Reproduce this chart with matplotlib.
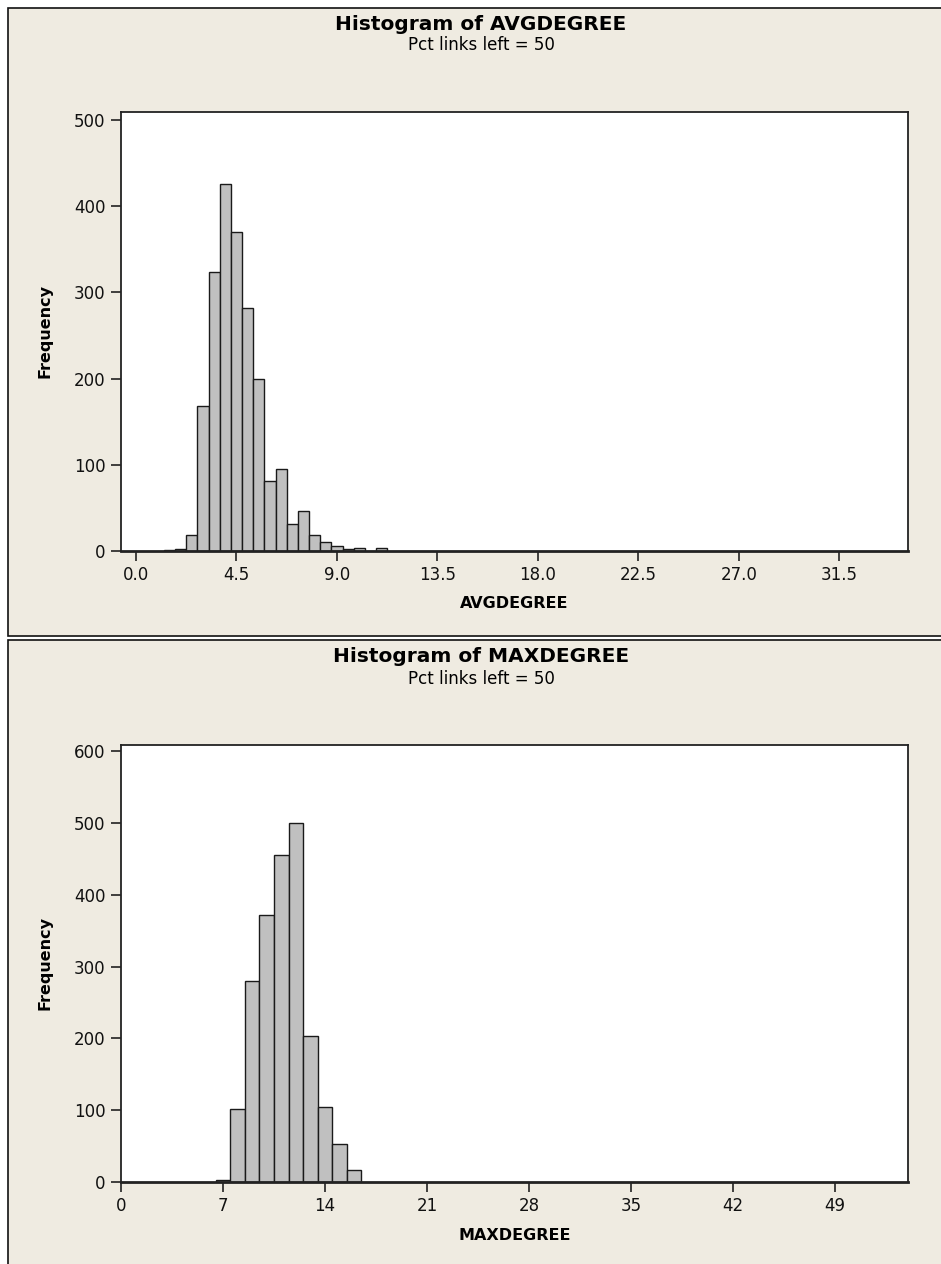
import numpy as np
import matplotlib.pyplot as plt
from matplotlib.patches import Rectangle

# AVGDEGREE histogram, bins of width 0.5 (bin centres)
avg_centers = [1.5, 2.0, 2.5, 3.0, 3.5, 4.0, 4.5, 5.0, 5.5, 6.0, 6.5,
               7.0, 7.5, 8.0, 8.5, 9.0, 9.5, 10.0, 10.5, 11.0]
avg_counts = [1, 2, 18, 168, 324, 425, 370, 282, 200, 81, 95,
              31, 46, 19, 10, 6, 2, 4, 0, 4]
avg_ticks = [0.0, 4.5, 9.0, 13.5, 18.0, 22.5, 27.0, 31.5]

# MAXDEGREE histogram, bins of width 1
max_centers = [7, 8, 9, 10, 11, 12, 13, 14, 15, 16]
max_counts = [3, 102, 280, 372, 456, 500, 203, 104, 53, 17]
max_ticks = [0, 7, 14, 21, 28, 35, 42, 49]

W, H = 941, 1264
BG = '#EFEBE1'
BAR = '#C0C0C0'
EDGE = '#1a1a1a'

plt.rcParams['font.family'] = 'DejaVu Sans'

fig = plt.figure(figsize=(W / 100, H / 100), dpi=100)
fig.patch.set_facecolor('white')


def px_rect(x0, y0, x1, y1):
    # pixel box (top-left origin) -> figure fraction [l, b, w, h]
    return [x0 / W, 1 - y1 / H, (x1 - x0) / W, (y1 - y0) / H]


# two panel frames, separated by a thin gap
for y0, y1 in [(8, 636), (640, 1280)]:
    l, b, w, h = px_rect(8, y0, 960, y1)
    fig.patches.append(Rectangle((l, b), w, h, transform=fig.transFigure,
                                 facecolor=BG, edgecolor='#111111', lw=1.2,
                                 zorder=-5))


def draw_hist(box, centers, counts, width, xlim, ylim, xticks, yticks,
              xfmt, title, xlabel, title_y, sub_y):
    ax = fig.add_axes(px_rect(*box))
    ax.set_zorder(1)
    ax.set_facecolor('white')
    ax.bar(centers, counts, width=width, color=BAR, edgecolor=EDGE,
           linewidth=1.0, zorder=2)
    ax.set_xlim(*xlim)
    ax.set_ylim(*ylim)
    ax.set_xticks(xticks)
    ax.set_xticklabels([xfmt.format(t) for t in xticks])
    ax.set_yticks(yticks)
    ax.tick_params(direction='out', length=7, width=1.1, labelsize=12,
                   colors='#111111', pad=4)
    for s in ax.spines.values():
        s.set_linewidth(1.3)
        s.set_color('#222222')
    ax.spines['bottom'].set_linewidth(2.0)
    x0, y0, x1, y1 = box
    ax.set_xlabel(xlabel, fontsize=11.5, fontweight='bold', va='center')
    ax.xaxis.set_label_coords(0.5, -53 / (y1 - y0))
    ax.set_ylabel('Frequency', fontsize=11.5, fontweight='bold', va='center')
    ax.yaxis.set_label_coords((45 - x0) / (x1 - x0), 0.5)
    fig.text(481 / W, 1 - title_y / H, title, ha='center', va='center',
             fontsize=14.5, fontweight='bold')
    fig.text(481 / W, 1 - sub_y / H, 'Pct links left = 50', ha='center',
             va='center', fontsize=12)
    return ax


draw_hist((121, 112, 908, 551), avg_centers, avg_counts, 0.5,
          (-0.67, 34.57), (0, 509), avg_ticks, range(0, 501, 100),
          '{:.1f}', 'Histogram of AVGDEGREE', 'AVGDEGREE', 24, 45)

draw_hist((121, 745, 908, 1182), max_centers, max_counts, 1.0,
          (0, 54), (0, 609), max_ticks, range(0, 601, 100),
          '{:d}', 'Histogram of MAXDEGREE', 'MAXDEGREE', 657, 679)

fig.savefig('out.png', dpi=100, facecolor=fig.get_facecolor())
